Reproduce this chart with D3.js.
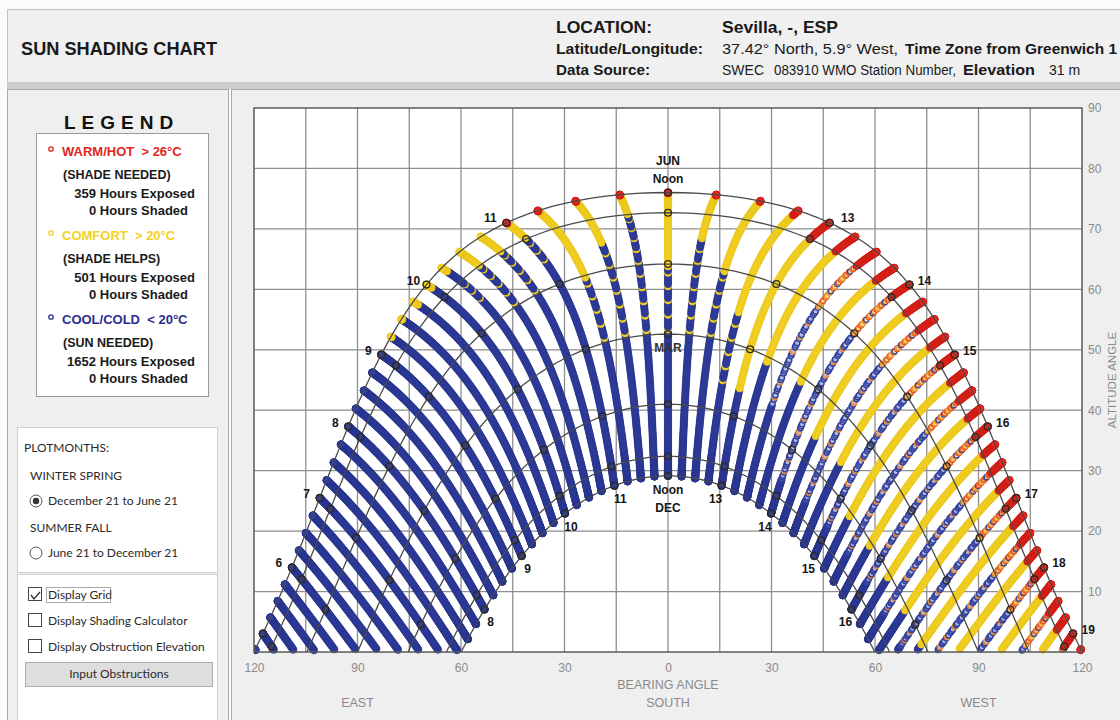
<!DOCTYPE html>
<html>
<head>
<meta charset="utf-8">
<script src="https://cdn.jsdelivr.net/npm/d3@7"></script>
<style>
  body { margin: 0; background: #fff; }
  svg { display: block; font-family: "Liberation Sans", Arial, sans-serif; }
  .ui { font-family: Lato, "Open Sans", sans-serif; font-size: 12px; fill: #2a2a2a; }
</style>
</head>
<body>
<svg id="chart" width="1120" height="720"></svg>
<script>
// ---- site data ----
const latitude = 37.42;
const locationName = "Sevilla, -, ESP";

// ---- axes ----
const bearingTicks = [-120, -90, -60, -30, 0, 30, 60, 90, 120];
const altitudeTicks = [10, 20, 30, 40, 50, 60, 70, 80, 90];
const bearingGrid = [-105, -90, -75, -60, -45, -30, -15, 0, 15, 30, 45, 60, 75, 90, 105];
const altitudeGrid = [10, 20, 30, 40, 50, 60, 70, 80];

// ---- monthly sun paths (declination in degrees) ----
const monthNames = ["DEC", "JAN", "FEB", "MAR", "APR", "MAY", "JUN"];
const monthDecl = [-23.44, -20.2, -11.6, 0, 11.6, 20.1, 23.44];
const markHours = [5, 6, 7, 8, 9, 10, 11, 12, 13, 14, 15, 16, 17, 18, 19];
const junLabelHours = [6, 7, 8, 9, 10, 11, 13, 14, 15, 16, 17, 18, 19];
const decLabelHours = [8, 9, 10, 11, 13, 14, 15, 16];

// ---- plotted hours: Dec 21 (day 0) to Jun 21 (day 182), every 15 min of solar time ----
const plotDays = d3.range(0, 183);
const slotTimes = d3.range(4.75, 19.26, 0.25);
// date bands (day index where each row below starts)
const bandStartDays = [0, 15, 30, 44, 59, 74, 89, 104, 120, 135, 151, 166, 176];
// temperature class per band and 15-min slot
// b cool, k cool with comfort hours, y comfort, r warm, m/o mixed hours
// groups: [4:45] [5h] [6h] [7h] [8h] [9h] [10h] [11h] [12h] [13h] [14h] [15h] [16h] [17h] [18h] [19:00 19:15]
const tempBands = [
  "b bbbb bbbb bbbb bbbb bbbb bbbb bbbb bbbb bbbb bbbb bbbb bbbb bbbb bbbb bb",
  "b bbbb bbbb bbbb bbbb bbbb bbbb bbbb bbbb bbbb bbbb bbbb bbbb bbbb bbbb bb",
  "b bbbb bbbb bbbb bbbb bbbb bbbb bbbb bbbb bbbb bbbb bbbb bbbb bbbb bbbb bb",
  "b bbbb bbbb bbbb bbbb bbbb bbbb bbbb bbbb bbbb mbmb mbmb mbmb mbmb bbbb bb",
  "b bbbb bbbb bbbb bbbb bbbb bbbb bbbb bbbb bbbb mbmb mymy mymy mymy mymy bb",
  "b bbbb bbbb bbbb bbbb bbbb bbbb bbbb bbbk ybmb mymy mymy mymy mymy mymy my",
  "b bbbb bbbb bbbb bbbb bbbb bbbb bkkk kkkk yymy mymy mymy mymy mymy mymy my",
  "b bbbb bbbb bbbb bbbb bbbb bbbb bkkk kkky yymy mymy mymy mymy mymy mymy my",
  "b bbbb bbbb bbbb bbbb bbbb bbkk bykk ykyy yyoy oyoy oyoy oyoy oyoy oyoy oy",
  "b bbbb bbbb bbbb bbbb bbbb bkkk kyyk yyyy yyoy oyoy oyoy oyoy oyoy oyoy oy",
  "b bbbb bbbb bbbb bbbb bbbb bbyy yyyy yyyy rrrr rrrr rrrr rrrr rrrr rrrr rr",
  "b bbbb bbbb bbbb bbbb bbby yyyy yyyy yyyr rrrr rrrr rrrr rrrr rrrr rrrr rr",
  "b bbbb bbbb bbbb bbbb byyy yyyy rrrr rrrr rrrr rrrr rrrr rrrr rrrr rrrr rr"
].map(s => s.replace(/ /g, ""));

// ---- legend ----
const legendNames = ["WARM/HOT\u00a0\u00a0> 26°C", "COMFORT\u00a0\u00a0> 20°C", "COOL/COLD\u00a0\u00a0< 20°C"];
const legendNotes = ["(SHADE NEEDED)", "(SHADE HELPS)", "(SUN NEEDED)"];
const hoursExposed = [359, 501, 1652];
const hoursShaded = [0, 0, 0];

const colors = {
  warm: "#e2261e", comfort: "#f3d126", cool: "#2f3d9c",
  grid: "#8e8e8e", curve: "#4a4a4a", axisText: "#8a8a8a"
};

// ---- solar geometry ----
const rad = Math.PI / 180;
function sunPos(decl, ha) {
  const phi = latitude * rad, d = decl * rad, h = ha * rad;
  const sinAlt = Math.sin(phi) * Math.sin(d) + Math.cos(phi) * Math.cos(d) * Math.cos(h);
  const alt = Math.asin(sinAlt) / rad;
  const az = Math.atan2(Math.sin(h), Math.cos(h) * Math.sin(phi) - Math.tan(d) * Math.cos(phi)) / rad;
  return { az, alt };
}
const declOfDay = d => -23.44 * Math.cos(Math.PI * d / 182);

const svg = d3.select("#chart");

// ---- panels ----
svg.append("rect").attr("width", 1120).attr("height", 720).attr("fill", "#fbfbfb");
svg.append("rect").attr("x", 7.5).attr("y", 9.5).attr("width", 1120).attr("height", 73)
  .attr("fill", "#f0f0f0").attr("stroke", "#c2c2c2");
svg.append("rect").attr("x", 7).attr("y", 82).attr("width", 1113).attr("height", 7).attr("fill", "#cdcdcd");
svg.append("rect").attr("x", 7.5).attr("y", 89.5).attr("width", 221).attr("height", 640)
  .attr("fill", "#efefef").attr("stroke", "#aaa");
svg.append("rect").attr("x", 231.5).attr("y", 89.5).attr("width", 900).attr("height", 640)
  .attr("fill", "#efefef").attr("stroke", "#aaa");

// ---- header ----
const hdr = svg.append("g").attr("fill", "#1a1a1a").attr("font-weight", "bold");
hdr.append("text").attr("x", 21).attr("y", 55).attr("font-size", 18)
  .attr("textLength", 196).attr("lengthAdjust", "spacingAndGlyphs").text("SUN SHADING CHART");
hdr.append("text").attr("x", 556).attr("y", 33).attr("font-size", 17)
  .attr("textLength", 96).attr("lengthAdjust", "spacingAndGlyphs").text("LOCATION:");
hdr.append("text").attr("x", 722).attr("y", 33).attr("font-size", 17)
  .attr("textLength", 116).attr("lengthAdjust", "spacingAndGlyphs").text(locationName);
hdr.append("text").attr("x", 556).attr("y", 54).attr("font-size", 14.5)
  .attr("textLength", 147).attr("lengthAdjust", "spacingAndGlyphs").text("Latitude/Longitude:");
hdr.append("text").attr("x", 556).attr("y", 75).attr("font-size", 14.5)
  .attr("textLength", 94).attr("lengthAdjust", "spacingAndGlyphs").text("Data Source:");
hdr.append("text").attr("x", 722).attr("y", 54).attr("font-size", 14.5).attr("font-weight", "normal")
  .attr("textLength", 176).attr("lengthAdjust", "spacingAndGlyphs").text("37.42° North, 5.9° West,");
hdr.append("text").attr("x", 905).attr("y", 54).attr("font-size", 14.5)
  .attr("textLength", 212).attr("lengthAdjust", "spacingAndGlyphs").text("Time Zone from Greenwich 1");
hdr.append("text").attr("x", 722).attr("y", 75).attr("font-size", 14).attr("font-weight", "normal")
  .text("SWEC");
hdr.append("text").attr("x", 774).attr("y", 75).attr("font-size", 14).attr("font-weight", "normal")
  .attr("textLength", 182).attr("lengthAdjust", "spacingAndGlyphs").text("083910 WMO Station Number,");
hdr.append("text").attr("x", 963).attr("y", 75).attr("font-size", 14)
  .attr("textLength", 72).attr("lengthAdjust", "spacingAndGlyphs").text("Elevation");
hdr.append("text").attr("x", 1049).attr("y", 75).attr("font-size", 14).attr("font-weight", "normal")
  .text("31 m");

// ---- legend panel ----
svg.append("text").attr("x", 64).attr("y", 129).attr("font-size", 19).attr("font-weight", "bold")
  .attr("letter-spacing", 6).attr("fill", "#111").text("LEGEND");
svg.append("rect").attr("x", 36.5).attr("y", 133.5).attr("width", 172).attr("height", 263)
  .attr("fill", "#fff").attr("stroke", "#9a9a9a");
const legColors = [colors.warm, colors.comfort, "#2b2e8e"];
const legY = [156, 240, 324];
legendNames.forEach((name, i) => {
  const g = svg.append("g").attr("font-weight", "bold").attr("font-size", 12.5);
  const y0 = legY[i];
  g.append("circle").attr("cx", 51).attr("cy", y0 - 7).attr("r", 2.2)
    .attr("fill", "none").attr("stroke", legColors[i]).attr("stroke-width", 1.3);
  g.append("text").attr("x", 62).attr("y", y0).attr("fill", legColors[i]).attr("font-size", 13).text(name);
  g.append("text").attr("x", 63).attr("y", y0 + 23).attr("fill", "#1a1a1a").text(legendNotes[i]);
  g.append("text").attr("x", 195).attr("y", y0 + 42).attr("text-anchor", "end").attr("fill", "#1a1a1a")
    .attr("font-size", 13).text(`${hoursExposed[i]} Hours Exposed`);
  g.append("text").attr("x", 188).attr("y", y0 + 59).attr("text-anchor", "end").attr("fill", "#1a1a1a")
    .attr("font-size", 13).text(`${hoursShaded[i]} Hours Shaded`);
});

// plot months box
svg.append("rect").attr("x", 17.5).attr("y", 427.5).attr("width", 200).attr("height", 145)
  .attr("fill", "#fff").attr("stroke", "#cfcfcf");
svg.append("text").attr("class", "ui").attr("x", 24).attr("y", 452).text("PLOTMONTHS:");
svg.append("text").attr("class", "ui").attr("x", 30).attr("y", 480).text("WINTER SPRING");
svg.append("text").attr("class", "ui").attr("x", 30).attr("y", 532).text("SUMMER FALL");
svg.append("circle").attr("cx", 36).attr("cy", 501).attr("r", 6).attr("fill", "#fff").attr("stroke", "#555");
svg.append("circle").attr("cx", 36).attr("cy", 501).attr("r", 3.2).attr("fill", "#333");
svg.append("text").attr("class", "ui").attr("x", 48).attr("y", 505).text("December 21 to June 21");
svg.append("circle").attr("cx", 36).attr("cy", 553).attr("r", 6).attr("fill", "#fff").attr("stroke", "#555");
svg.append("text").attr("class", "ui").attr("x", 48).attr("y", 557).text("June 21 to December 21");

// options box
svg.append("rect").attr("x", 17.5).attr("y", 574.5).attr("width", 200).attr("height", 150)
  .attr("fill", "#fff").attr("stroke", "#cfcfcf");
const options = ["Display Grid", "Display Shading Calculator", "Display Obstruction Elevation"];
const optY = [595, 621, 647];
options.forEach((o, i) => {
  svg.append("rect").attr("x", 28.5).attr("y", optY[i] - 7.5).attr("width", 13).attr("height", 13)
    .attr("fill", "#fff").attr("stroke", "#444");
  svg.append("text").attr("class", "ui").attr("x", 48).attr("y", optY[i] + 4).text(o);
});
svg.append("path").attr("d", "M31,595 l3,4 l6,-7").attr("fill", "none").attr("stroke", "#333").attr("stroke-width", 1.4);
svg.append("rect").attr("x", 46.5).attr("y", 587.5).attr("width", 64).attr("height", 15)
  .attr("fill", "none").attr("stroke", "#555").attr("stroke-dasharray", "1,1");
svg.append("rect").attr("x", 25.5).attr("y", 662.5).attr("width", 187).attr("height", 24)
  .attr("fill", "#dedede").attr("stroke", "#adadad");
svg.append("text").attr("class", "ui").attr("x", 119).attr("y", 678).attr("text-anchor", "middle")
  .text("Input Obstructions");

// ---- chart ----
const plotL = 254, plotR = 1082, plotT = 108, plotB = 652;
const x = d3.scaleLinear().domain([-120, 120]).range([plotL, plotR]);
const y = d3.scaleLinear().domain([0, 90]).range([plotB, plotT]);

svg.append("rect").attr("x", plotL).attr("y", plotT).attr("width", plotR - plotL).attr("height", plotB - plotT)
  .attr("fill", "#fff");
svg.append("clipPath").attr("id", "plotclip").append("rect")
  .attr("x", plotL).attr("y", plotT - 2).attr("width", plotR - plotL + 4).attr("height", plotB - plotT + 6);

const grid = svg.append("g").attr("stroke", colors.grid).attr("stroke-width", 1.3);
grid.selectAll(".vg").data(bearingGrid).join("line")
  .attr("x1", d => x(d)).attr("x2", d => x(d)).attr("y1", plotT).attr("y2", plotB);
grid.selectAll(".hg").data(altitudeGrid).join("line")
  .attr("x1", plotL).attr("x2", plotR).attr("y1", d => y(d)).attr("y2", d => y(d));

// sun position dots
const bandOf = d => d3.bisectRight(bandStartDays, d) - 1;
const dots = [];
slotTimes.forEach((t, i) => {
  plotDays.forEach(d => {
    const p = sunPos(declOfDay(d), (t - 12) * 15);
    if (p.alt < 0.3) return;
    dots.push({ az: p.az, alt: p.alt, day: d, code: tempBands[bandOf(d)][i] });
  });
});

function dotStyle(code, d) {
  const cool = { r: 3.7, fill: "#2f3d9c", stroke: "#26328a", sw: 0.6 };
  const comfort = { r: 3.7, fill: "#f4d226", stroke: "#e6c218", sw: 0.6 };
  const warm = { r: 3.7, fill: "#e2261e", stroke: "#c81c16", sw: 0.6 };
  switch (code) {
    case "b": return cool;
    case "k": return d % 6 === 3 ? comfort : cool;
    case "y": return comfort;
    case "r": return warm;
    case "m":
      if (d % 4 === 3) return null;
      return { r: 2.7, fill: "#b4b9e0", stroke: d % 7 === 0 ? "#e8862a" : "#33419c", sw: 1.5 };
    case "o":
      if (d % 3 === 2) return null;
      return { r: 2.6, fill: "#f7e184", stroke: d % 5 === 0 ? "#3a46a0" : (d % 2 ? "#ec8a2a" : "#e2512a"), sw: 1.4 };
  }
  return null;
}

const dotData = dots.map(p => Object.assign(p, { s: dotStyle(p.code, p.day) })).filter(p => p.s);
svg.append("g").attr("clip-path", "url(#plotclip)")
  .selectAll("circle").data(dotData).join("circle")
  .attr("cx", p => x(p.az)).attr("cy", p => y(p.alt)).attr("r", p => p.s.r)
  .attr("fill", p => p.s.fill).attr("stroke", p => p.s.stroke).attr("stroke-width", p => p.s.sw);

// monthly sun path curves
const line = d3.line().x(p => x(p.az)).y(p => y(p.alt));
const curves = svg.append("g").attr("clip-path", "url(#plotclip)");
monthDecl.forEach(dec => {
  const ha0 = Math.acos(-Math.tan(latitude * rad) * Math.tan(dec * rad)) / rad;
  const pts = d3.range(-ha0, ha0 + 0.01, ha0 / 90).map(h => sunPos(dec, h));
  curves.append("path").attr("d", line(pts)).attr("fill", "none")
    .attr("stroke", colors.curve).attr("stroke-width", 1.3);
});

// hour points on each month curve
const marks = [];
monthDecl.forEach(dec => markHours.forEach(h => {
  const p = sunPos(dec, (h - 12) * 15);
  if (p.alt > 0.5) marks.push(p);
}));
curves.selectAll(".mk").data(marks).join("circle")
  .attr("cx", p => x(p.az)).attr("cy", p => y(p.alt)).attr("r", 3.4)
  .attr("fill", "none").attr("stroke", "#2e2a22").attr("stroke-width", 1.3);

// frame
svg.append("rect").attr("x", plotL).attr("y", plotT).attr("width", plotR - plotL).attr("height", plotB - plotT)
  .attr("fill", "none").attr("stroke", "#5a5a5a").attr("stroke-width", 1.5);

// hour labels
const lab = svg.append("g").attr("font-size", 12).attr("font-weight", "bold").attr("fill", "#151515")
  .attr("text-anchor", "middle");
junLabelHours.forEach(h => {
  const p = sunPos(monthDecl[6], (h - 12) * 15);
  const s = Math.sign(p.az);
  const extra = Math.abs(h - 12) === 1 ? 3 : 0;
  lab.append("text").attr("x", x(p.az) + s * (s < 0 ? 13 + extra : 15 + extra)).attr("y", y(p.alt) + (extra ? -1 : 0)).text(h);
});
decLabelHours.forEach(h => {
  const p = sunPos(monthDecl[0], (h - 12) * 15);
  const s = Math.sign(p.az);
  lab.append("text").attr("x", x(p.az) - s * 6).attr("y", y(p.alt) + 17).text(h);
});
const junNoon = sunPos(monthDecl[6], 0), decNoon = sunPos(monthDecl[0], 0), marNoon = sunPos(monthDecl[3], 0);
lab.append("text").attr("x", x(0)).attr("y", y(junNoon.alt) - 28).text("JUN");
lab.append("text").attr("x", x(0)).attr("y", y(junNoon.alt) - 10).text("Noon");
lab.append("text").attr("x", x(0)).attr("y", y(decNoon.alt) + 18).text("Noon");
lab.append("text").attr("x", x(0)).attr("y", y(decNoon.alt) + 36).text("DEC");
lab.append("text").attr("x", x(0)).attr("y", y(marNoon.alt) + 18).attr("fill", "#333").text(monthNames[3]);

// axes
const xAxis = svg.append("g").attr("transform", `translate(0,${plotB})`)
  .call(d3.axisBottom(x).tickValues(bearingTicks).tickFormat(d => Math.abs(d)).tickSize(0).tickPadding(11));
const yAxis = svg.append("g").attr("transform", `translate(${plotR},0)`)
  .call(d3.axisRight(y).tickValues(altitudeTicks).tickSize(0).tickPadding(6));
[xAxis, yAxis].forEach(a => {
  a.select(".domain").remove();
  a.selectAll("text").attr("fill", colors.axisText).attr("font-size", 12)
    .attr("font-family", "'Liberation Sans', Arial, sans-serif");
});

const axLab = svg.append("g").attr("fill", colors.axisText).attr("font-size", 12.5).attr("text-anchor", "middle");
axLab.append("text").attr("x", x(0)).attr("y", 689).text("BEARING ANGLE");
axLab.append("text").attr("x", x(0)).attr("y", 707).text("SOUTH");
axLab.append("text").attr("x", x(-90)).attr("y", 707).text("EAST");
axLab.append("text").attr("x", x(90)).attr("y", 707).text("WEST");
axLab.append("text").attr("font-size", 11.5).attr("transform", `translate(1116,${y(45)}) rotate(-90)`).text("ALTITUDE ANGLE");
</script>
</body>
</html>
